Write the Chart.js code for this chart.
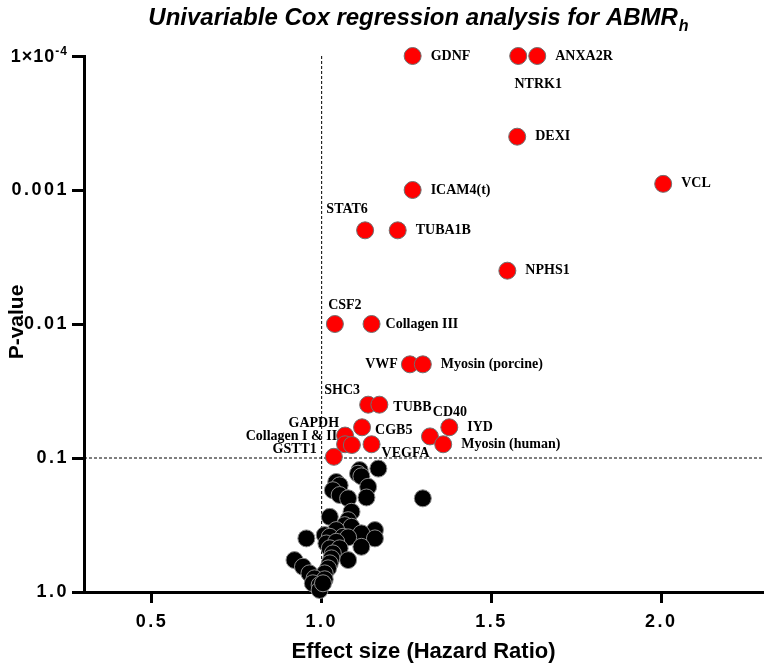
<!DOCTYPE html>
<html>
<head>
<meta charset="utf-8">
<title>Univariable Cox regression analysis for ABMRh</title>
<script src="https://cdn.jsdelivr.net/npm/chart.js@4.4.1/dist/chart.umd.min.js"></script>
<style>
  html, body { margin: 0; padding: 0; background: #fff; overflow: hidden; }
  canvas { display: block; }
</style>
</head>
<body>
<canvas id="grafico" width="764" height="666"></canvas>
<script>
// genes significativos (rojos)
const redGenes = ['GDNF', 'NTRK1', 'ANXA2R', 'DEXI', 'ICAM4(t)', 'VCL', 'STAT6', 'TUBA1B', 'NPHS1',
    'CSF2', 'Collagen III', 'VWF', 'Myosin (porcine)', 'SHC3', 'TUBB', 'CGB5', 'GAPDH',
    'Collagen I & II', '', 'VEGFA', 'GSTT1', 'CD40', 'IYD', 'Myosin (human)'];
const redHR = [1.268, 1.579, 1.635, 1.576, 1.268, 2.006, 1.128, 1.224, 1.547,
    1.039, 1.147, 1.260, 1.298, 1.137, 1.170, 1.119, 1.069,
    1.069, 1.089, 1.147, 1.036, 1.319, 1.376, 1.358];
const redP = [0.0001, 0.0001, 0.0001, 0.0004, 0.001, 0.0009, 0.002, 0.002, 0.004,
    0.01, 0.01, 0.02, 0.02, 0.04, 0.04, 0.059, 0.068,
    0.079, 0.080, 0.079, 0.098, 0.069, 0.059, 0.079];

// genes no significativos (negros)
const blackHR = [1.167, 1.112, 1.107, 1.117, 1.043, 1.053, 1.137, 1.033, 1.053, 1.078,
    1.132, 1.298, 1.088, 1.024, 1.078, 1.068, 1.088, 1.043, 1.157, 1.117,
    1.009, 0.955, 1.024, 1.063, 1.078, 1.157, 1.014, 1.043, 1.117, 1.024,
    1.053, 1.033, 1.029, 1.078, 0.920, 1.024, 0.945, 1.019, 0.964, 1.009,
    0.979, 1.009, 0.974, 0.994, 0.994, 1.004];
const blackP = [0.120, 0.123, 0.131, 0.137, 0.151, 0.160, 0.164, 0.174, 0.189, 0.200,
    0.197, 0.200, 0.252, 0.275, 0.291, 0.317, 0.326, 0.345, 0.345, 0.365,
    0.376, 0.398, 0.387, 0.387, 0.391, 0.398, 0.434, 0.422, 0.460, 0.472,
    0.472, 0.515, 0.561, 0.578, 0.578, 0.611, 0.648, 0.666, 0.726, 0.726,
    0.791, 0.804, 0.861, 0.887, 0.966, 0.861];

const xTicks = [0.5, 1.0, 1.5, 2.0];
const yTicks = [0.0001, 0.001, 0.01, 0.1, 1];
const yTickLabels = ['1×10⁻⁴', '0.001', '0.01', '0.1', '1.0'];
const xCutoff = 1.0;
const pCutoff = 0.1;

// posición de cada etiqueta respecto a su punto
const labelPos = {
    'NTRK1': { dx: 20, dy: 28, align: 'center' },
    'STAT6': { dx: -18, dy: -21, align: 'center' },
    'CSF2': { dx: 10, dy: -19, align: 'center' },
    'Collagen III': { dx: 14, dy: 0, align: 'left' },
    'VWF': { dx: -12, dy: 0, align: 'right' },
    'SHC3': { dx: -26, dy: -14, align: 'center' },
    'TUBB': { dx: 14, dy: 3, align: 'left' },
    'CGB5': { dx: 13, dy: 3, align: 'left' },
    'CD40': { dx: 20, dy: -24, align: 'center' },
    'VEGFA': { dx: 10, dy: 9, align: 'left' },
    'GAPDH': { dx: -6, dy: -12, align: 'right' },
    'Collagen I & II': { dx: -8, dy: -8, align: 'right' },
    'GSTT1': { dx: -17, dy: -7, align: 'right' }
};

const SANS = '"Liberation Sans", Arial, sans-serif';
const SERIF = '"Liberation Serif", "Times New Roman", serif';

const annotPlugin = {
    id: 'annot',
    beforeDraw(chart) {
        chart.ctx.letterSpacing = '2.5px';
    },
    beforeDatasetsDraw(chart) {
        const { ctx, chartArea, scales } = chart;
        const xp = scales.x.getPixelForValue(xCutoff);
        const yp = scales.y.getPixelForValue(pCutoff);
        ctx.save();
        ctx.letterSpacing = '0px';
        ctx.strokeStyle = '#000';
        ctx.lineWidth = 1;
        ctx.setLineDash([3, 2]);
        ctx.beginPath();
        ctx.moveTo(xp, chartArea.top);
        ctx.lineTo(xp, chartArea.bottom);
        ctx.moveTo(chartArea.left, yp);
        ctx.lineTo(chartArea.right, yp);
        ctx.stroke();
        ctx.restore();
    },
    afterDatasetsDraw(chart) {
        const { ctx } = chart;
        const meta = chart.getDatasetMeta(1);
        ctx.save();
        ctx.letterSpacing = '0px';
        ctx.fillStyle = '#000';
        ctx.font = 'bold 14px ' + SERIF;
        ctx.textBaseline = 'middle';
        meta.data.forEach((pt, i) => {
            const name = redGenes[i];
            if (!name) return;
            const pos = labelPos[name] || { dx: 18, dy: 0, align: 'left' };
            ctx.textAlign = pos.align;
            ctx.fillText(name, pt.x + pos.dx, pt.y + pos.dy);
        });
        ctx.restore();
    },
    afterDraw(chart) {
        const { ctx, chartArea, scales } = chart;
        ctx.save();
        ctx.fillStyle = '#000';

        // etiqueta 1×10^-4 con superíndice
        const yTop = scales.y.getPixelForValue(yTicks[0]);
        ctx.letterSpacing = '1px';
        ctx.textBaseline = 'alphabetic';
        ctx.textAlign = 'right';
        ctx.font = 'bold 12px ' + SANS;
        ctx.fillText('-4', 68, yTop - 1);
        const wSup = ctx.measureText('-4').width;
        ctx.font = 'bold 18px ' + SANS;
        ctx.fillText('1×10', 68 - wSup, yTop + 6);

        ctx.letterSpacing = '0px';
        // título con subíndice
        const main = 'Univariable Cox regression analysis for ABMR';
        ctx.font = 'italic bold 24px ' + SANS;
        const w1 = ctx.measureText(main).width;
        ctx.font = 'italic bold 16px ' + SANS;
        const w2 = ctx.measureText('h').width;
        const x0 = 418 - (w1 + w2) / 2;
        ctx.textAlign = 'left';
        ctx.font = 'italic bold 24px ' + SANS;
        ctx.fillText(main, x0, 25);
        ctx.font = 'italic bold 16px ' + SANS;
        ctx.fillText('h', x0 + w1 + 1, 31);

        // títulos de ejes
        ctx.font = 'bold 22px ' + SANS;
        ctx.textAlign = 'center';
        ctx.textBaseline = 'middle';
        ctx.fillText('Effect size (Hazard Ratio)', (chartArea.left + chartArea.right) / 2, 652);
        ctx.translate(17, 322);
        ctx.rotate(-Math.PI / 2);
        ctx.font = 'bold 21px ' + SANS;
        ctx.fillText('P-value', 0, 0);
        ctx.restore();
    }
};

const ctx = document.getElementById('grafico').getContext('2d');
new Chart(ctx, {
    type: 'scatter',
    data: {
        datasets: [{
            label: 'n.s.',
            data: blackHR.map((v, i) => ({ x: v, y: blackP[i] })),
            backgroundColor: '#000',
            borderColor: '#8c8c8c',
            borderWidth: 1,
            pointRadius: 8.5,
            clip: false
        }, {
            label: 'p < 0.1',
            data: redHR.map((v, i) => ({ x: v, y: redP[i] })),
            backgroundColor: '#ff0000',
            borderColor: '#707070',
            borderWidth: 1,
            pointRadius: 8.5,
            clip: false
        }]
    },
    options: {
        responsive: false,
        animation: false,
        layout: { autoPadding: false, padding: { top: 56, right: 1, left: 0, bottom: 0 } },
        plugins: {
            legend: { display: false },
            title: { display: false },
            tooltip: { enabled: false }
        },
        scales: {
            x: {
                type: 'linear',
                min: 0.3,
                max: 2.3,
                afterBuildTicks: s => { s.ticks = xTicks.map(v => ({ value: v })); },
                afterFit: s => { s.height = 74; s.paddingLeft = 0; s.paddingRight = 0; },
                ticks: {
                    autoSkip: false,
                    maxRotation: 0,
                    padding: 8,
                    color: '#000',
                    font: { family: SANS, size: 18, weight: 'bold' },
                    callback: v => Number(v).toFixed(1)
                },
                grid: { display: true, drawOnChartArea: false, drawTicks: true, tickLength: 11, tickWidth: 3, tickColor: '#000' },
                border: { display: true, width: 3, color: '#000' }
            },
            y: {
                type: 'logarithmic',
                reverse: true,
                min: 0.0001,
                max: 1,
                afterBuildTicks: s => { s.ticks = yTicks.map(v => ({ value: v })); },
                afterFit: s => { s.width = 84; },
                ticks: {
                    autoSkip: false,
                    padding: 3,
                    color: '#000',
                    font: { family: SANS, size: 18, weight: 'bold' },
                    // la primera etiqueta lleva superíndice y se dibuja aparte
                    callback: v => (v === yTicks[0] ? '' : yTickLabels[yTicks.indexOf(v)])
                },
                grid: { display: true, drawOnChartArea: false, drawTicks: true, tickLength: 12, tickWidth: 3, tickColor: '#000' },
                border: { display: true, width: 3, color: '#000' }
            }
        }
    },
    plugins: [annotPlugin]
});
</script>
</body>
</html>
